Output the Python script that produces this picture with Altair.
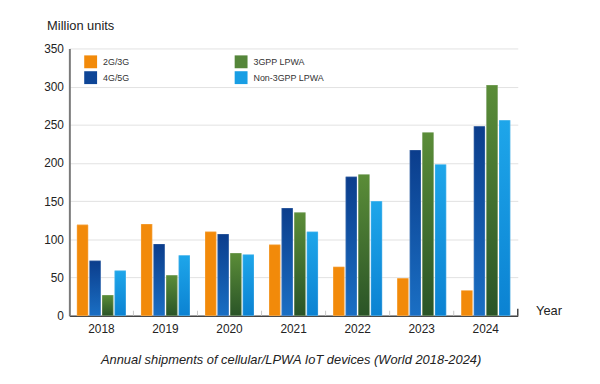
import altair as alt
import pandas as pd

years = ["2018", "2019", "2020", "2021", "2022", "2023", "2024"]
series_names = ["2G/3G", "4G/5G", "3GPP LPWA", "Non-3GPP LPWA"]
g2g3 = [119, 120, 110, 93, 64, 49, 33]
g4g5 = [72, 94, 107, 141, 182, 217, 248]
lpwa3gpp = [27, 53, 82, 135, 185, 240, 302]
lpwa_non = [59, 79, 80, 110, 150, 198, 256]
y_ticks = [0, 50, 100, 150, 200, 250, 300, 350]
caption = "Annual shipments of cellular/LPWA IoT devices (World 2018-2024)"

flat_colors = ["#f28a0a", "#0e4596", "#55863a", "#189ee4"]
grad_colors = {
    "2G/3G": ("#f28a0a", "#f28a0a"),
    "4G/5G": ("#0b3d8c", "#1a6fc4"),
    "3GPP LPWA": ("#5b8d38", "#2a5427"),
    "Non-3GPP LPWA": ("#1ea6ea", "#0b82d2"),
}

rows = []
for vals, name in zip([g2g3, g4g5, lpwa3gpp, lpwa_non], series_names):
    for yr, v in zip(years, vals):
        rows.append({"year": yr, "series": name, "value": v})
df = pd.DataFrame(rows)

FONT = "Liberation Sans"

x_enc = alt.X(
    "year:N",
    sort=years,
    scale=alt.Scale(paddingInner=0, paddingOuter=0),
    axis=alt.Axis(
        title="Year",
        titleAngle=0,
        titleX=471,
        titleY=-5,
        titleAlign="left",
        titleBaseline="middle",
        titleFontSize=13,
        titleFontWeight="normal",
        titleColor="#222",
        titleFont=FONT,
        labelAngle=0,
        labelFontSize=12,
        labelColor="#222",
        labelFont=FONT,
        labelPadding=8,
        ticks=False,
        domainColor="#444",
        domainWidth=1.5,
        grid=False,
    ),
)
xo_enc = alt.XOffset(
    "series:N", sort=series_names, scale=alt.Scale(paddingInner=0.11, paddingOuter=0.6)
)
y_enc = alt.Y(
    "value:Q",
    scale=alt.Scale(domain=[0, 350], nice=False),
    axis=alt.Axis(
        values=y_ticks,
        labelOverlap=False,
        title="Million units",
        titleAngle=0,
        titleX=-23,
        titleY=-23,
        titleAlign="left",
        titleBaseline="middle",
        titleFontSize=13,
        titleFontWeight="normal",
        titleColor="#222",
        titleFont=FONT,
        labelFontSize=12,
        labelColor="#222",
        labelFont=FONT,
        labelPadding=6,
        ticks=False,
        domainColor="#7a7a7a",
        domainWidth=2,
        gridColor="#e2e2e2",
        gridWidth=1,
    ),
)

base = alt.Chart(df).mark_bar().encode(
    x=x_enc,
    xOffset=xo_enc,
    y=y_enc,
    color=alt.Color(
        "series:N",
        scale=alt.Scale(domain=series_names, range=flat_colors),
        legend=alt.Legend(
            title=None,
            orient="none",
            legendX=15,
            legendY=7,
            columns=2,
            direction="vertical",
            symbolType="square",
            symbolSize=169,
            symbolStrokeWidth=0,
            labelFontSize=9,
            labelColor="#333",
            labelFont=FONT,
            labelOffset=6,
            columnPadding=106,
            rowPadding=3,
        ),
    ),
)

layers = [base]
for name in series_names:
    top, bottom = grad_colors[name]
    grad = alt.Gradient(
        gradient="linear",
        stops=[alt.GradientStop(color=top, offset=0), alt.GradientStop(color=bottom, offset=1)],
        x1=0, x2=0, y1=0, y2=1,
    )
    layers.append(
        alt.Chart(df)
        .transform_filter(alt.datum.series == name)
        .mark_bar(fill=grad, stroke="#ffffff", strokeWidth=0.4, strokeOpacity=0.6)
        .encode(x=x_enc, xOffset=xo_enc, y=y_enc)
    )

tick_df = pd.DataFrame({"year": years[1:]})
sep_ticks = alt.Chart(tick_df).mark_rule(color="#c8c8c8", strokeWidth=1).encode(
    x=alt.X("year:N", sort=years, bandPosition=0),
    y=alt.value(270),
    y2=alt.value(265),
)
end_df = pd.DataFrame({"year": [years[-1]]})
end_tick = alt.Chart(end_df).mark_rule(color="#444", strokeWidth=1.5).encode(
    x=alt.X("year:N", sort=years, bandPosition=1),
    y=alt.value(270),
    y2=alt.value(263),
)
cap = alt.Chart(pd.DataFrame({"t": [caption]})).mark_text(
    font=FONT, fontSize=13, fontStyle="italic", color="#222", align="center", baseline="middle"
).encode(text="t:N", x=alt.value(224), y=alt.value(315))

chart = alt.layer(*layers, sep_ticks, end_tick, cap).properties(
    width=453,
    height=270,
    autosize="none",
    padding={"left": 62, "top": 39, "right": 75, "bottom": 55},
).configure_view(stroke=None)

chart.save("out.html", embed_options={"renderer": "svg", "actions": False})
